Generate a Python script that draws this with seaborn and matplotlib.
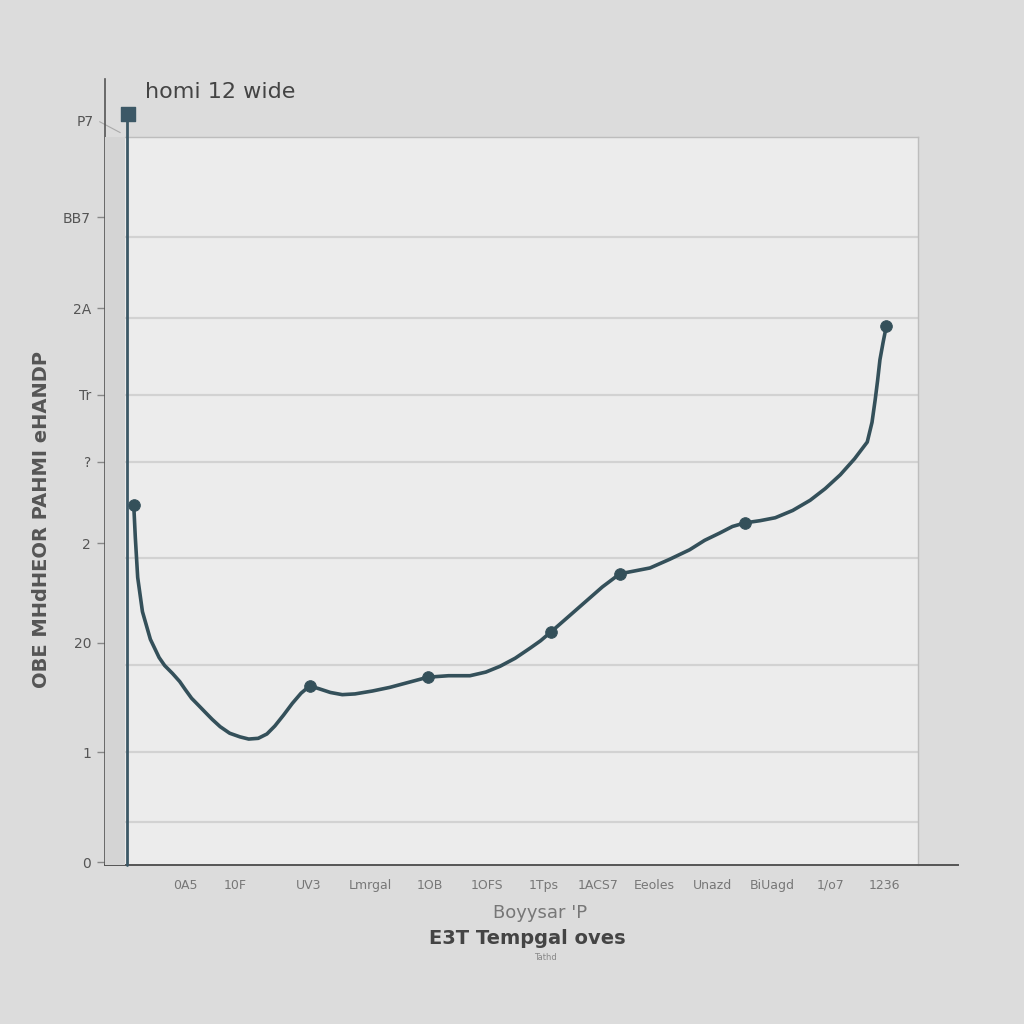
import matplotlib
matplotlib.use("Agg")
import matplotlib.pyplot as plt
import seaborn as sns
import pandas as pd

# ---- data ----
curve_x = [1.1, 1.3, 1.6, 2.2, 3.2, 4.3, 5.0, 6.0, 6.9, 7.6, 8.4, 9.3, 10.1, 11.0, 12.0,
           13.2, 14.5, 15.6, 16.8, 17.9, 18.9, 20.0, 21.1, 22.2, 23.3, 24.5, 25.9, 27.4,
           29.0, 31.2, 33.4, 35.8, 38.2, 40.8, 43.5, 45.5, 47.3, 49.2, 51.1, 52.4, 53.7,
           55.8, 58.0, 60.2, 62.4, 64.3, 66.2, 68.7, 71.2, 73.1, 75.0, 76.6, 78.2, 80.1,
           82.0, 84.2, 86.4, 88.3, 90.2, 92.0, 93.6, 94.2, 94.6, 94.9, 95.2, 95.6, 96.0]
curve_y = [49.5, 45.0, 39.5, 34.8, 31.0, 28.5, 27.4, 26.3, 25.2, 24.1, 22.9, 21.9, 21.0,
           20.0, 19.0, 18.1, 17.6, 17.3, 17.4, 18.0, 19.1, 20.6, 22.2, 23.6, 24.6, 24.2,
           23.7, 23.4, 23.5, 23.9, 24.4, 25.1, 25.8, 26.0, 26.0, 26.5, 27.3, 28.4, 29.8,
           30.8, 32.0, 34.0, 36.1, 38.2, 40.0, 40.4, 40.8, 42.0, 43.3, 44.6, 45.6, 46.5,
           47.0, 47.3, 47.7, 48.7, 50.1, 51.7, 53.6, 55.8, 58.1, 60.8, 63.9, 66.5, 69.4,
           71.8, 74.0]
marker_x = [1.1, 23.3, 38.2, 53.7, 62.4, 78.2, 96.0]
marker_y = [49.5, 24.6, 25.8, 32.0, 40.0, 47.0, 74.0]
top_marker_x = [0.4]
top_marker_y = [103.2]

xtick_pos = [7.6, 13.9, 23.1, 30.9, 38.5, 45.7, 52.8, 59.7, 66.8, 74.1, 81.6, 89.0, 95.8]
xtick_labels = ["0A5", "10F", "UV3", "Lmrgal", "1OB", "1OFS", "1Tps", "1ACS7",
                "Eeoles", "Unazd", "BiUagd", "1/o7", "1236"]
ytick_pos = [0.4, 15.5, 30.5, 44.2, 55.4, 64.6, 76.5, 89.0]
ytick_labels = ["0", "1", "20", "2", "?", "Tr", "2A", "BB7"]
ytop_pos = 102.1
ytop_label = "P7"
grid_y = [5.9, 15.5, 27.5, 42.2, 55.4, 64.6, 75.1, 86.3]

title_text = "homi 12 wide"
ylabel_text = "OBE MHdHEOR PAHMI eHANDP"
xlabel_top = "Boyysar 'P"
xlabel_main = "E3T Tempgal oves"
xlabel_small = "Tathd"

sns.set_theme(style="white")
plt.rcParams["font.family"] = ["DejaVu Sans"]

BG = "#dcdcdc"
PANEL = "#ececec"
LINE = "#34505a"
TXT = "#555555"

fig = plt.figure(figsize=(10.24, 10.24), dpi=100, facecolor=BG)
ax = fig.add_axes([125 / 1024, (1024 - 865) / 1024, (918 - 125) / 1024, (865 - 137) / 1024])
ax.set_facecolor(PANEL)

# band between outer spine and panel
fig.patches.append(plt.Rectangle((105 / 1024, (1024 - 865) / 1024), 20 / 1024, (865 - 137) / 1024,
                                 transform=fig.transFigure, facecolor="#d4d4d4",
                                 edgecolor="none", zorder=0))

for gy in grid_y:
    ax.axhline(gy, color="#d2d2d2", lw=1.6, zorder=1)

df = pd.DataFrame({"x": curve_x, "y": curve_y})
sns.lineplot(data=df, x="x", y="y", ax=ax, color=LINE, lw=2.6, sort=False, zorder=3)
mk = pd.DataFrame({"x": marker_x, "y": marker_y})
sns.scatterplot(data=mk, x="x", y="y", ax=ax, color=LINE, s=70, edgecolor=LINE, zorder=4)
ax.scatter(top_marker_x, top_marker_y, marker="s", s=90, color="#3c5866", zorder=5, clip_on=False)
ax.axvline(0.3, ymin=0, ymax=1.03, color="#3c5866", lw=2, clip_on=False, zorder=4)

# spines
for s in ["top", "right"]:
    ax.spines[s].set_color("#bdbdbd")
    ax.spines[s].set_linewidth(1)
ax.spines["left"].set_position(("outward", 14.4))
ax.spines["left"].set_bounds(0, 108)
ax.spines["left"].set_color("#555555")
ax.spines["left"].set_linewidth(1.2)
ax.spines["bottom"].set_bounds(-2.5, 105)
ax.spines["bottom"].set_color("#555555")
ax.spines["bottom"].set_linewidth(1.4)

ax.set_xticks(xtick_pos)
ax.set_xticklabels(xtick_labels, fontsize=9, color="#777777")
ax.set_yticks(ytick_pos)
ax.set_yticklabels(ytick_labels, fontsize=10, color=TXT)
ax.set_xlim(0, 100)
ax.set_ylim(0, 100)
ax.tick_params(axis="y", length=6, width=1, color="#888888", pad=4, left=True)
ax.tick_params(axis="x", length=0, pad=10)
ax.set_xlabel("")
ax.set_ylabel("")

# topmost tick label sits above the panel
ytr = ax.get_yaxis_transform()
ax.text(-0.04, ytop_pos, ytop_label, transform=ytr, ha="right", va="center",
        fontsize=10, color=TXT, clip_on=False)
ax.plot([-0.032, -0.006], [ytop_pos, ytop_pos - 1.5], transform=ytr, color="#aaaaaa",
        lw=0.8, clip_on=False)

fig.text(145 / 1024, 1 - 92 / 1024, title_text, fontsize=16, color="#444444",
         ha="left", va="center")
fig.text(42 / 1024, 1 - 520 / 1024, ylabel_text, fontsize=14, color="#555555",
         rotation=90, ha="center", va="center", fontweight="bold")
fig.text(540 / 1024, 1 - 913 / 1024, xlabel_top, fontsize=13, color="#777777",
         ha="center", va="center")
fig.text(527 / 1024, 1 - 938 / 1024, xlabel_main, fontsize=14, color="#444444",
         ha="center", va="center", fontweight="bold")
fig.text(545 / 1024, 1 - 957 / 1024, xlabel_small, fontsize=6, color="#888888",
         ha="center", va="center")

fig.savefig("out.png", dpi=100, facecolor=BG)
